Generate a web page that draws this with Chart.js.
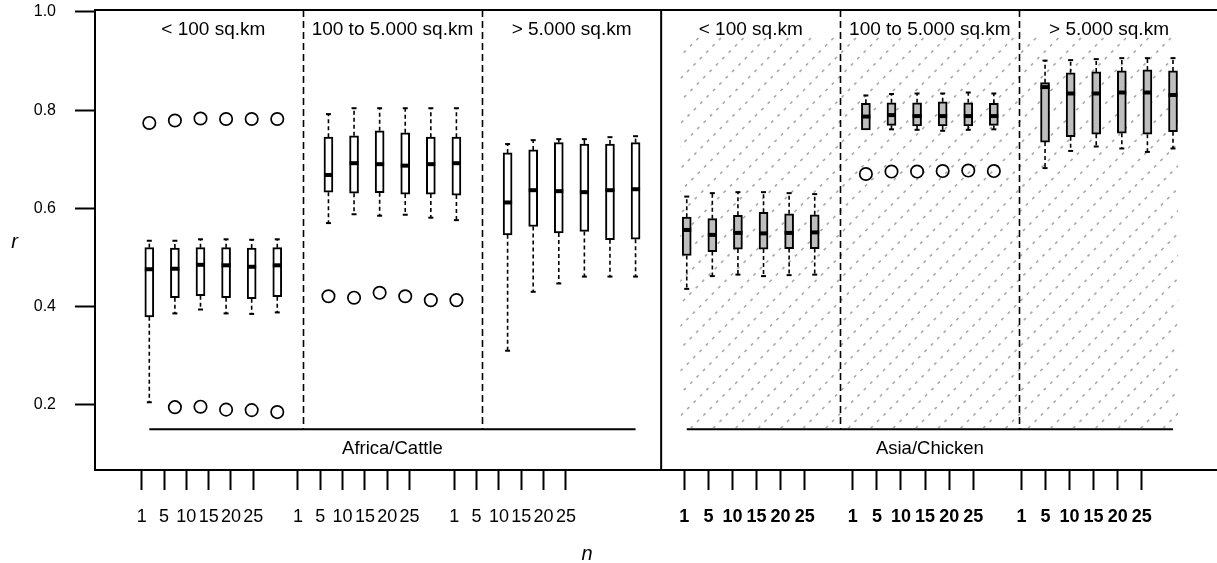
<!DOCTYPE html>
<html>
<head>
<meta charset="utf-8">
<script src="https://cdn.jsdelivr.net/npm/chart.js@4/dist/chart.umd.min.js"></script>
<style>
  html, body { margin: 0; padding: 0; background: #fff; overflow: hidden; }
  #wrap { position: relative; width: 1240px; height: 563px; }
</style>
</head>
<body>
<div id="wrap"><canvas id="c" width="1240" height="563"></canvas></div>
<script>
// ---- data -------------------------------------------------------------
const regions = ['Africa/Cattle', 'Asia/Chicken'];
const areaClasses = ['< 100 sq.km', '100 to 5.000 sq.km', '> 5.000 sq.km'];
const nLabels = ['1', '5', '10', '15', '20', '25'];
const yTicks = [0.2, 0.4, 0.6, 0.8, 1.0];

// Box statistics, 18 boxes per region: 3 area classes x 6 values of n
const cattleLow    = [0.205, 0.386, 0.394, 0.386, 0.385, 0.388,  0.570, 0.588, 0.585, 0.587, 0.581, 0.576,  0.310, 0.430, 0.447, 0.461, 0.461, 0.461];
const cattleQ1     = [0.379, 0.418, 0.422, 0.418, 0.416, 0.420,  0.633, 0.631, 0.632, 0.629, 0.629, 0.627,  0.546, 0.563, 0.550, 0.553, 0.536, 0.537];
const cattleMedian = [0.476, 0.477, 0.485, 0.484, 0.481, 0.484,  0.668, 0.692, 0.690, 0.687, 0.690, 0.692,  0.612, 0.637, 0.635, 0.633, 0.637, 0.639];
const cattleQ3     = [0.520, 0.519, 0.520, 0.520, 0.519, 0.520,  0.745, 0.748, 0.758, 0.754, 0.745, 0.745,  0.713, 0.719, 0.734, 0.731, 0.731, 0.734];
const cattleHigh   = [0.534, 0.534, 0.537, 0.537, 0.536, 0.537,  0.792, 0.804, 0.804, 0.804, 0.804, 0.804,  0.731, 0.739, 0.741, 0.741, 0.745, 0.747];
const cattleOutliers = [[0.774], [0.779, 0.195], [0.783, 0.196], [0.782, 0.190], [0.782, 0.189], [0.782, 0.185],
                        [0.421], [0.418], [0.428], [0.421], [0.413], [0.413],
                        [], [], [], [], [], []];

const chickenLow    = [0.436, 0.462, 0.465, 0.462, 0.464, 0.465,  0.760, 0.761, 0.760, 0.758, 0.760, 0.761,  0.682, 0.717, 0.726, 0.722, 0.715, 0.722];
const chickenQ1     = [0.504, 0.512, 0.517, 0.517, 0.518, 0.518,  0.760, 0.769, 0.768, 0.768, 0.768, 0.769,  0.735, 0.746, 0.751, 0.753, 0.751, 0.756];
const chickenMedian = [0.556, 0.546, 0.550, 0.549, 0.550, 0.551,  0.787, 0.790, 0.788, 0.788, 0.788, 0.788,  0.847, 0.834, 0.834, 0.836, 0.836, 0.831];
const chickenQ3     = [0.582, 0.579, 0.586, 0.592, 0.589, 0.587,  0.814, 0.815, 0.815, 0.817, 0.815, 0.814,  0.856, 0.876, 0.878, 0.880, 0.882, 0.880];
const chickenHigh   = [0.624, 0.631, 0.633, 0.633, 0.631, 0.629,  0.830, 0.833, 0.834, 0.834, 0.836, 0.834,  0.901, 0.902, 0.904, 0.906, 0.906, 0.906];
const chickenOutliers = [[], [], [], [], [], [],
                         [0.670], [0.675], [0.675], [0.676], [0.677], [0.676],
                         [], [], [], [], [], []];

// ---- layout helpers ---------------------------------------------------
const FONT = "'Liberation Sans', Arial, Helvetica, sans-serif";
const slot = k => Math.floor(k / 6) * 7 + (k % 6) + 1;      // 1..6, 8..13, 15..20
const boxPos = (r, k) => r * 21 + slot(k);                   // second region follows after a gap
const tickSlots = Array.from({ length: 18 }, (_, k) => slot(k));
const BASE = 0.15;                                           // level of the region baselines

const stats = [
  { low: cattleLow, q1: cattleQ1, med: cattleMedian, q3: cattleQ3, high: cattleHigh, out: cattleOutliers, fill: '#ffffff' },
  { low: chickenLow, q1: chickenQ1, med: chickenMedian, q3: chickenQ3, high: chickenHigh, out: chickenOutliers, fill: '#bebebe' }
];

const boxDatasets = stats.map((s, r) => ({
  type: 'bar',
  label: regions[r],
  data: s.q1.map((v, k) => ({ x: boxPos(r, k), y: [v, s.q3[k]] })),
  backgroundColor: s.fill,
  borderColor: '#000',
  borderWidth: 2,
  borderSkipped: false,
  barThickness: 9,
  grouped: false,
  order: 2
}));

const outlierPoints = [];
stats.forEach((s, r) => s.out.forEach((list, k) => list.forEach(v => outlierPoints.push({ x: boxPos(r, k), y: v }))));

const outlierDataset = {
  type: 'scatter',
  label: 'outliers',
  data: outlierPoints,
  pointStyle: 'circle',
  pointRadius: 6.2,
  pointBorderWidth: 1.7,
  pointBorderColor: '#000',
  pointBackgroundColor: 'rgba(0,0,0,0)',
  order: 1
};

// ---- drawing of whiskers, medians, hatching, frame and labels -----------
const boxplotDecor = {
  id: 'boxplotDecor',
  beforeDatasetsDraw(chart) {
    const { ctx, chartArea: ca } = chart;
    const xs = chart.scales.x, ys = chart.scales.y;
    const yBase = ys.getPixelForValue(BASE);

    // diagonal hatching behind the second region
    ctx.save();
    const hx0 = xs.getPixelForValue(21.75), hx1 = xs.getPixelForValue(41.2);
    const hy0 = ys.getPixelForValue(0.952), hy1 = yBase - 1;
    ctx.beginPath();
    ctx.rect(hx0, hy0, hx1 - hx0, hy1 - hy0);
    ctx.clip();
    ctx.strokeStyle = '#a9a9a9';
    ctx.lineWidth = 1.6;
    ctx.setLineDash([3, 6]);
    const h = hy1 - hy0;
    for (let c = hx0 - h - 2; c < hx1 + 2; c += 22.5) {
      ctx.beginPath();
      ctx.moveTo(c, hy1);
      ctx.lineTo(c + h, hy0);
      ctx.stroke();
    }
    ctx.restore();

    // whiskers with staples
    ctx.save();
    ctx.strokeStyle = '#000';
    stats.forEach((s, r) => {
      s.q1.forEach((q1, k) => {
        const x = xs.getPixelForValue(boxPos(r, k));
        const pairs = [[s.q3[k], s.high[k]], [q1, s.low[k]]];
        pairs.forEach(([from, to]) => {
          const y0 = ys.getPixelForValue(from), y1 = ys.getPixelForValue(to);
          if (Math.abs(y1 - y0) < 0.5) return;
          ctx.lineWidth = 1.6;
          ctx.setLineDash([4, 3]);
          ctx.beginPath();
          ctx.moveTo(x, y0);
          ctx.lineTo(x, y1);
          ctx.stroke();
          ctx.setLineDash([]);
          ctx.lineWidth = 2;
          ctx.beginPath();
          ctx.moveTo(x - 2.5, y1);
          ctx.lineTo(x + 2.5, y1);
          ctx.stroke();
        });
      });
    });
    ctx.restore();

    // area-class separators and region baselines
    ctx.save();
    ctx.strokeStyle = '#000';
    ctx.lineWidth = 1.6;
    ctx.setLineDash([7, 4]);
    [7, 14, 28, 35].forEach(p => {
      const x = Math.round(xs.getPixelForValue(p)) + 0.5;
      ctx.beginPath();
      ctx.moveTo(x, ca.top);
      ctx.lineTo(x, yBase);
      ctx.stroke();
    });
    ctx.setLineDash([]);
    ctx.lineWidth = 2;
    [[1, 20], [22, 41]].forEach(([a, b]) => {
      ctx.beginPath();
      ctx.moveTo(xs.getPixelForValue(a), yBase);
      ctx.lineTo(xs.getPixelForValue(b), yBase);
      ctx.stroke();
    });
    const xm = xs.getPixelForValue(21);
    ctx.beginPath();
    ctx.moveTo(xm, ca.top);
    ctx.lineTo(xm, ca.bottom);
    ctx.stroke();
    ctx.restore();
  },
  afterDatasetsDraw(chart) {
    const { ctx, chartArea: ca } = chart;
    const xs = chart.scales.x, ys = chart.scales.y;
    const yBase = ys.getPixelForValue(BASE);

    // medians
    ctx.save();
    ctx.fillStyle = '#000';
    stats.forEach((s, r) => {
      s.med.forEach((m, k) => {
        const x = xs.getPixelForValue(boxPos(r, k));
        const y = ys.getPixelForValue(m);
        ctx.fillRect(x - 4.5, y - 2, 9, 4);
      });
    });
    ctx.restore();

    // plot frame
    ctx.save();
    ctx.strokeStyle = '#000';
    ctx.lineWidth = 2;
    ctx.strokeRect(ca.left, ca.top, ca.right - ca.left, ca.bottom - ca.top);
    ctx.restore();

    // class titles and region names
    ctx.save();
    ctx.fillStyle = '#000';
    ctx.textAlign = 'center';
    ctx.textBaseline = 'alphabetic';
    regions.forEach((name, r) => {
      ctx.font = '19px ' + FONT;
      areaClasses.forEach((cls, g) => {
        ctx.fillText(cls, xs.getPixelForValue(r * 21 + g * 7 + 3.5), ca.top + 25);
      });
      ctx.font = '18.5px ' + FONT;
      ctx.fillText(name, xs.getPixelForValue(r * 21 + 10.5), yBase + 25);
    });
    ctx.font = 'italic 20px ' + FONT;
    ctx.fillText('r', 14.5, (ca.top + ca.bottom) / 2 + 8);
    ctx.fillText('n', 587, 560);
    ctx.restore();
  }
};

// ---- tick axes under each region ---------------------------------------
function tickAxis(min, max, bold) {
  return {
    type: 'linear',
    position: 'bottom',
    stack: 'n',
    stackWeight: 1,
    min, max,
    offset: false,
    afterBuildTicks: s => { s.ticks = tickSlots.map(v => ({ value: v })); },
    afterFit: s => { s.height = 93; },
    ticks: {
      autoSkip: false,
      maxRotation: 0,
      minRotation: 0,
      padding: 16,
      color: '#000',
      font: { size: 18, family: FONT, weight: bold ? 'bold' : 'normal' },
      callback: (v, i) => nLabels[i % nLabels.length]
    },
    grid: { offset: false, drawOnChartArea: false, drawTicks: true, tickLength: 20, tickWidth: 2, tickColor: '#000', color: '#000' },
    border: { display: false }
  };
}

new Chart(document.getElementById('c'), {
  type: 'bar',
  data: { datasets: [...boxDatasets, outlierDataset] },
  options: {
    responsive: false,
    animation: false,
    devicePixelRatio: 1,
    layout: { padding: { top: 10, right: 13, left: 0, bottom: 0 } },
    plugins: { legend: { display: false }, tooltip: { enabled: false } },
    scales: {
      x: { type: 'linear', display: false, offset: false, grid: { offset: false }, min: -1.122, max: 43.11 },
      y: {
        type: 'linear',
        min: 0.06702, max: 1.00407,
        afterBuildTicks: s => { s.ticks = yTicks.map(v => ({ value: v })); },
        afterFit: s => { s.width = 95; s.paddingTop = 0; s.paddingBottom = 0; },
        ticks: { padding: 19, color: '#000', font: { size: 16, family: FONT }, callback: v => v.toFixed(1) },
        grid: { drawOnChartArea: false, drawTicks: true, tickLength: 20, tickWidth: 2, tickColor: '#000' },
        border: { display: false }
      },
      xl: tickAxis(-1.091, 24.26, false),
      xr: tickAxis(0.032, 23.54, true)
    }
  },
  plugins: [boxplotDecor]
});
</script>
</body>
</html>
